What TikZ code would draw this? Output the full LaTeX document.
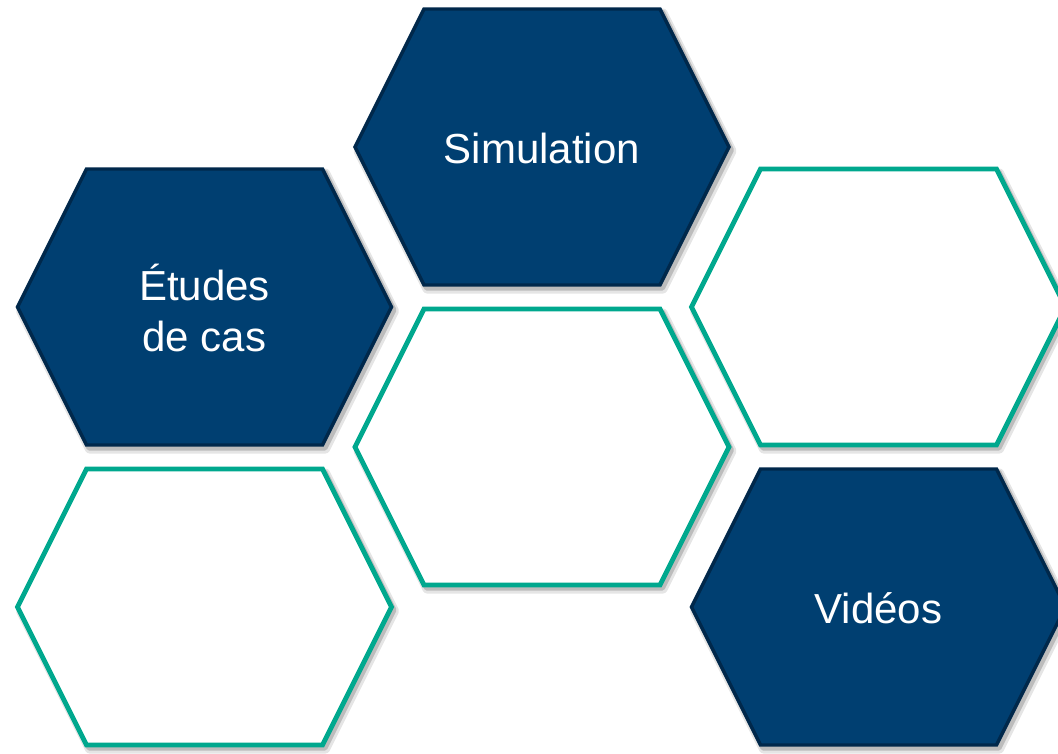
\documentclass[tikz,border=0pt]{standalone}
\usepackage{fontspec}
\setmainfont{Liberation Sans}
\definecolor{navy}{RGB}{0,63,113}
\definecolor{navyedge}{RGB}{0,40,75}
\definecolor{teal}{RGB}{0,168,142}
\newcommand{\HexPath}{(-187,0) -- (-118,-138) -- (118,-138) -- (187,0) -- (118,138) -- (-118,138) -- cycle}
\tikzset{
  darkhex/.style={fill=navy,draw=navyedge,line width=3.4pt,line join=miter},
  lighthex/.style={fill=white,draw=teal,line width=4.8pt,line join=miter},
  shadowA/.style={draw=black,opacity=0.10,line width=9pt,line join=round},
  shadowB/.style={draw=black,opacity=0.18,line width=5pt,line join=round},
  lbl/.style={text=white,align=center,font=\fontsize{42}{51}\selectfont,inner sep=0pt}
}
\begin{document}
\begin{tikzpicture}[x=1pt,y=-1pt]
\useasboundingbox (0,0) rectangle (1058,753);
% shadows
\foreach \cx/\cy in {542/147,204.5/307,878.5/307,542/447,204.5/607,878.5/607}{
  \draw[shadowA,shift={(\cx+3,\cy+4)}] \HexPath;
  \draw[shadowB,shift={(\cx+2.5,\cy+3)}] \HexPath;
}
% hexagons
\draw[darkhex,shift={(542,147)}] \HexPath;
\draw[darkhex,shift={(204.5,307)}] \HexPath;
\draw[lighthex,shift={(878.5,307)}] \HexPath;
\draw[lighthex,shift={(542,447)}] \HexPath;
\draw[lighthex,shift={(204.5,607)}] \HexPath;
\draw[darkhex,shift={(878.5,607)}] \HexPath;
% labels
\node[lbl] (sim) at (542,148) {Simulation};
\node[lbl] (etu) at (204.5,308) {Études\\de cas};
\node[lbl] (vid) at (878.5,608) {Vidéos};
\coordinate (e1) at (878.5,307);
\coordinate (e2) at (542,447);
\coordinate (e3) at (204.5,607);
\end{tikzpicture}
\end{document}
